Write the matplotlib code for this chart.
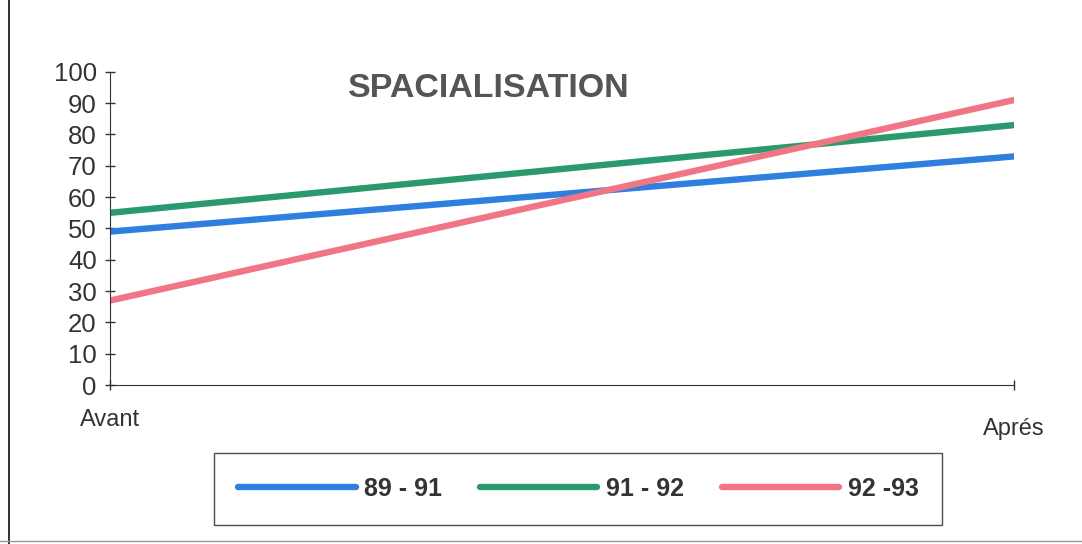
import matplotlib.pyplot as plt
from matplotlib.lines import Line2D
from matplotlib.transforms import ScaledTranslation

plt.rcParams["font.family"] = ["Liberation Sans", "DejaVu Sans"]

# valeurs Avant / Après pour chaque promotion
periodes = ["Avant", "Aprés"]
serie_89_91 = [49, 73]
serie_91_92 = [55, 83]
serie_92_93 = [27, 91]
noms_series = ["89 - 91", "91 - 92", "92 -93"]
couleurs = ["#2f7fe0", "#2a9a6e", "#f07585"]
y_ticks = [0, 10, 20, 30, 40, 50, 60, 70, 80, 90, 100]

fig = plt.figure(figsize=(10.82, 5.44), dpi=100)
fig.patch.set_facecolor("white")
ax = fig.add_axes([0.1017, 0.292, 0.8355, 0.576])

x = list(range(len(periodes)))
for vals, nom, coul in zip([serie_89_91, serie_91_92, serie_92_93], noms_series, couleurs):
    ax.plot(x, vals, color=coul, lw=4.6, solid_capstyle="round", label=nom)

ax.set_xlim(0, 1)
ax.set_ylim(0, 100)
ax.set_yticks(y_ticks)
ax.set_xticks(x)
ax.set_xticklabels(periodes)

for side in ["top", "right"]:
    ax.spines[side].set_visible(False)
ax.spines["left"].set_color("#333333")
ax.spines["bottom"].set_color("#333333")
ax.tick_params(axis="y", direction="inout", length=7, width=1, pad=6,
               labelsize=18.5, labelcolor="#333333", color="#333333")
ax.tick_params(axis="x", direction="inout", length=7, width=1, pad=14,
               labelsize=17, labelcolor="#333333", color="#333333")

# "Aprés" un peu plus bas que "Avant"
lbl = ax.get_xticklabels()[1]
lbl.set_transform(lbl.get_transform() + ScaledTranslation(0, -9 / 100, fig.dpi_scale_trans))

fig.text(0.452, 0.838, "SPACIALISATION", fontsize=24.5, fontweight="bold",
         color="#555555", ha="center", va="center")

leg = fig.legend(loc="center", bbox_to_anchor=(0.5345, 0.101), ncol=3,
                 frameon=True, fancybox=False, edgecolor="#222222",
                 handlelength=4.7, handletextpad=0.35, columnspacing=1.5,
                 borderpad=0.95, borderaxespad=0,
                 prop={"size": 18, "weight": "bold"})
leg.get_frame().set_linewidth(1.0)
for t in leg.get_texts():
    t.set_color("#333333")

# bord du cadre
fig.add_artist(Line2D([0.0083, 0.0083], [0.0, 1.0], color="#222222", lw=1.3))
fig.add_artist(Line2D([0.0, 1.0], [0.006, 0.006], color="#999999", lw=1.0))

fig.savefig("out.png", dpi=100)
